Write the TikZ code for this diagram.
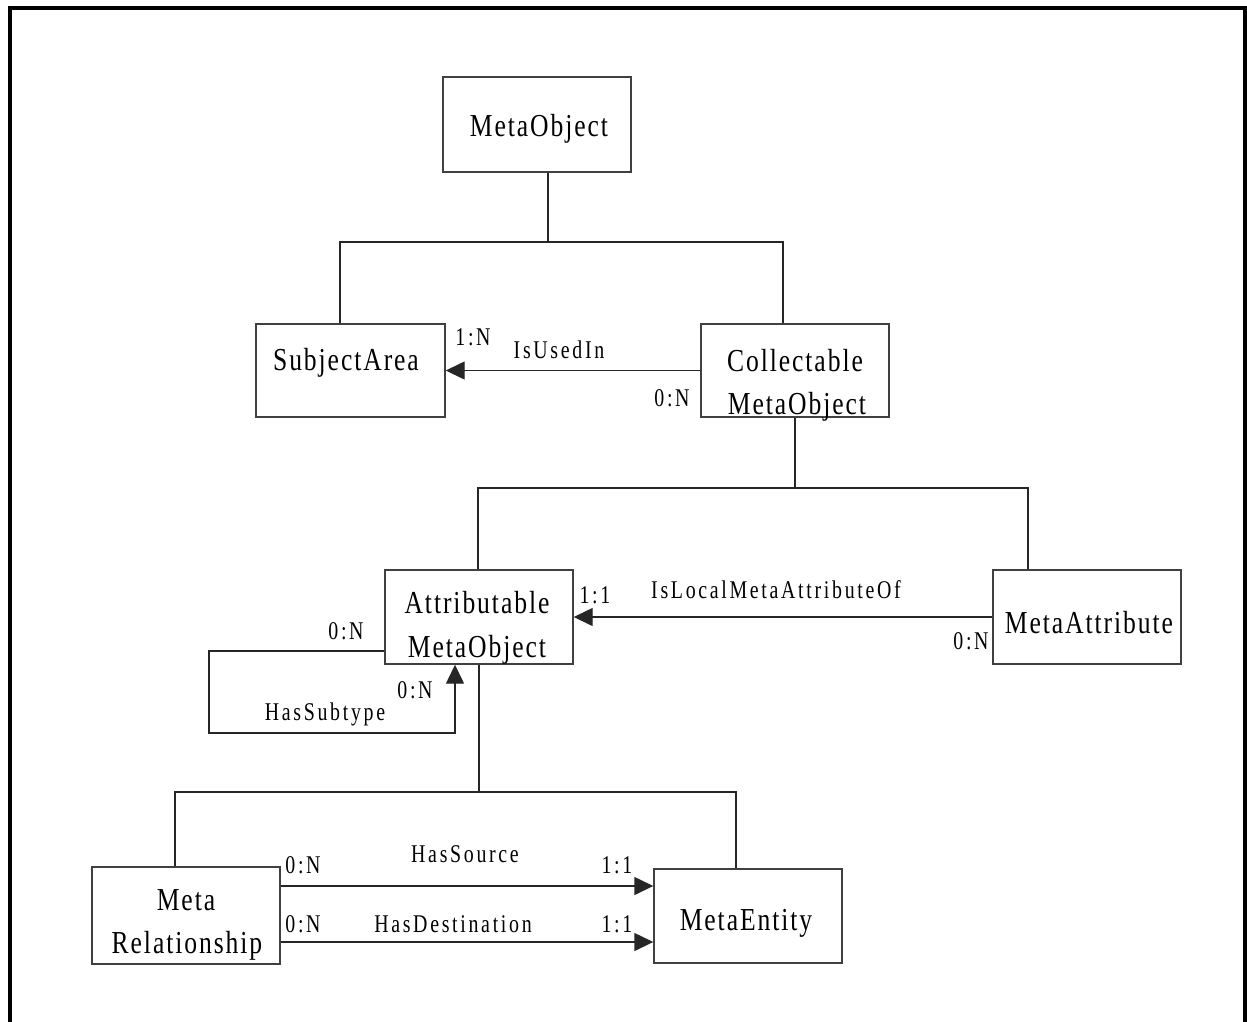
\documentclass[tikz,border=0pt]{standalone}
\usepackage{fontspec}
\setmainfont{Liberation Serif}
\newfontfamily\bxf[FakeStretch=0.8,LetterSpace=6]{Liberation Serif}
\newfontfamily\lbf[FakeStretch=0.78,LetterSpace=10.5]{Liberation Serif}
\usetikzlibrary{arrows.meta}
\begin{document}
\begin{tikzpicture}[x=1pt,y=-1pt,
  box/.style={draw=black!75, line width=1.4pt, inner sep=0pt},
  btxt/.style={font=\bxf\fontsize{32}{38}\selectfont, anchor=base, inner sep=0pt},
  ltxt/.style={font=\lbf\fontsize{25.5}{30}\selectfont, anchor=base, inner sep=0pt},
  conn/.style={line width=1.4pt, draw=black!85},
  arr/.style={conn, -{Triangle[length=19pt,width=18pt]}},
  frame/.style={line width=4pt, draw=black}]
\useasboundingbox (0,0) rectangle (1247,1021);
\draw[frame] (10,1023) -- (10,8) -- (1245,8) -- (1245,1023);

% boxes
\node[box, minimum width=188pt, minimum height=95pt] (mo)  at (537,124.5) {};
\node[box, minimum width=189pt, minimum height=93pt] (sa)  at (350.5,370.5) {};
\node[box, minimum width=188pt, minimum height=93pt] (cmo) at (795,370.5) {};
\node[box, minimum width=188pt, minimum height=94pt] (amo) at (479,617) {};
\node[box, minimum width=188pt, minimum height=94pt] (ma)  at (1087,617) {};
\node[box, minimum width=188pt, minimum height=97pt] (mr)  at (186,915.5) {};
\node[box, minimum width=188pt, minimum height=94pt] (me)  at (748,916) {};

% box texts
\node[btxt] (moT)  at (539,136) {MetaObject};
\node[btxt] (saT)  at (346,370) {SubjectArea};
\node[btxt] (cmoT1) at (795,371) {Collectable};
\node[btxt] (cmoT2) at (797,414) {MetaObject};
\node[btxt] (amoT1) at (477,613) {Attributable};
\node[btxt] (amoT2) at (477,657) {MetaObject};
\node[btxt] (maT)  at (1089,633) {MetaAttribute};
\node[btxt] (mrT1) at (186,910) {Meta};
\node[btxt] (mrT2) at (187,953) {Relationship};
\node[btxt] (meT)  at (746,930) {MetaEntity};

% tree connectors
\coordinate (t1)  at (548,242);
\coordinate (t1l) at (340,242);
\coordinate (t1r) at (783,242);
\draw[conn] (mo.south -| t1) -- (t1);
\draw[conn] (sa.north -| t1l) |- (t1r) -- (cmo.north -| t1r);

\coordinate (t2l) at (478,488);
\coordinate (t2r) at (1028,488);
\draw[conn] (cmo.south) -- (cmo.south |- t2l);
\draw[conn] (amo.north -| t2l) |- (t2r) -- (ma.north -| t2r);

\coordinate (t3l) at (175,792);
\coordinate (t3r) at (736,792);
\draw[conn] (amo.south) -- (amo.south |- t3l);
\draw[conn] (mr.north -| t3l) |- (t3r) -- (me.north -| t3r);

% associations
\draw[arr] (cmo.west) -- (sa.east);
\draw[arr] (ma.west) -- (amo.east);

\coordinate (lpA) at (209,733);
\coordinate (lpB) at (455,733);
\path ([yshift=-34pt]amo.west) coordinate (lp0);
\draw[arr] (lp0) -| (lpA) -- (lpB) -- (amo.south -| lpB);

\path ([yshift=29.5pt]mr.east) coordinate (hs1);
\path ([yshift=-26.5pt]mr.east) coordinate (hd1);
\draw[arr] (hs1) -- (hs1 -| me.west);
\draw[arr] (hd1) -- (hd1 -| me.west);

% labels
\node[ltxt] (l1)  at (473,345) {1:N};
\node[ltxt] (l2)  at (559,358) {IsUsedIn};
\node[ltxt] (l3)  at (672,406) {0:N};
\node[ltxt] (l4)  at (595,603) {1:1};
\node[ltxt] (l5)  at (776,598) {IsLocalMetaAttributeOf};
\node[ltxt] (l6)  at (971,649) {0:N};
\node[ltxt] (l7)  at (346,639) {0:N};
\node[ltxt] (l8)  at (415,698) {0:N};
\node[ltxt] (l9)  at (325,720) {HasSubtype};
\node[ltxt] (l10) at (303,873) {0:N};
\node[ltxt] (l11) at (465,862) {HasSource};
\node[ltxt] (l12) at (617,873) {1:1};
\node[ltxt] (l13) at (303,932) {0:N};
\node[ltxt] (l14) at (453,932) {HasDestination};
\node[ltxt] (l15) at (617,932) {1:1};
\end{tikzpicture}
\end{document}
